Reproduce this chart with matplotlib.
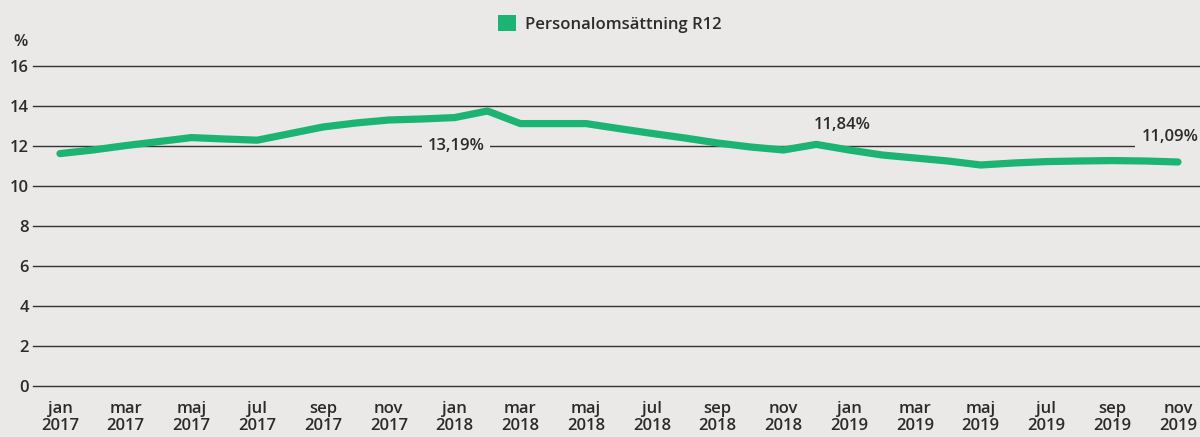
import matplotlib.pyplot as plt
from matplotlib.patches import Patch

# data
months = ['jan', 'feb', 'mar', 'apr', 'maj', 'jun', 'jul', 'aug', 'sep', 'okt', 'nov', 'dec']
periods = [f'{m}\n{y}' for y in (2017, 2018, 2019) for m in months][:35]
turnover = [11.62, 11.8, 12.02, 12.22, 12.42, 12.35, 12.29, 12.62, 12.95, 13.15, 13.3, 13.35,
            13.42, 13.75, 13.12, 13.12, 13.12, 12.87, 12.63, 12.4, 12.15, 11.95, 11.8, 12.08,
            11.8, 11.55, 11.4, 11.25, 11.05, 11.15, 11.22, 11.25, 11.27, 11.25, 11.2]
yticks = [0, 2, 4, 6, 8, 10, 12, 14, 16]
series_name = 'Personalomsättning R12'
# (x position, value shown, label y)
notes = [(12.05, '13,19%', 12.0), (23.8, '11,84%', 13.05), (33.75, '11,09%', 12.45)]

bg = '#eae9e7'
green = '#1bb473'
dark = '#2b2b2b'

plt.rcParams['font.family'] = ['Open Sans', 'DejaVu Sans']
plt.rcParams['font.weight'] = 'semibold'
fs = 12

fig = plt.figure(figsize=(12, 4.37), dpi=100, facecolor=bg)
ax = fig.add_axes([0.0275, 0.1167, 0.9725, 0.7323])
ax.set_facecolor(bg)

x = list(range(len(turnover)))
ax.plot(x, turnover, color=green, lw=5.2, solid_capstyle='round', solid_joinstyle='round', zorder=3)

ax.set_ylim(0, 16)
ax.set_xlim(-0.82, 34.67)
ax.set_yticks(yticks)
ax.set_xticks(x[::2])
ax.set_xticklabels(periods[::2], fontsize=fs, color=dark, linespacing=1.05)
ax.tick_params(axis='y', length=0, pad=3, labelsize=fs, labelcolor=dark)
ax.tick_params(axis='x', length=0, pad=11)
ax.grid(axis='y', color='#333333', lw=1.0, zorder=1)
for gl in ax.get_ygridlines():
    gl.set_clip_on(False)
for s in ax.spines.values():
    s.set_visible(False)

for xi, txt, yy in notes:
    ax.text(xi, yy, txt, ha='center', va='center', fontsize=fs, color=dark, zorder=4,
            bbox=dict(boxstyle='square,pad=0.35', fc=bg, ec='none'))

fig.text(0.017, 0.905, '%', fontsize=fs, color=dark, ha='center', va='center')

fig.legend(handles=[Patch(facecolor=green, edgecolor='none', label=series_name)],
           loc='center', bbox_to_anchor=(0.508, 0.945), frameon=False, fontsize=fs,
           handlelength=1.1, handleheight=1.1, handletextpad=0.5, labelcolor=dark)

fig.savefig('out.png', dpi=100, facecolor=bg)
